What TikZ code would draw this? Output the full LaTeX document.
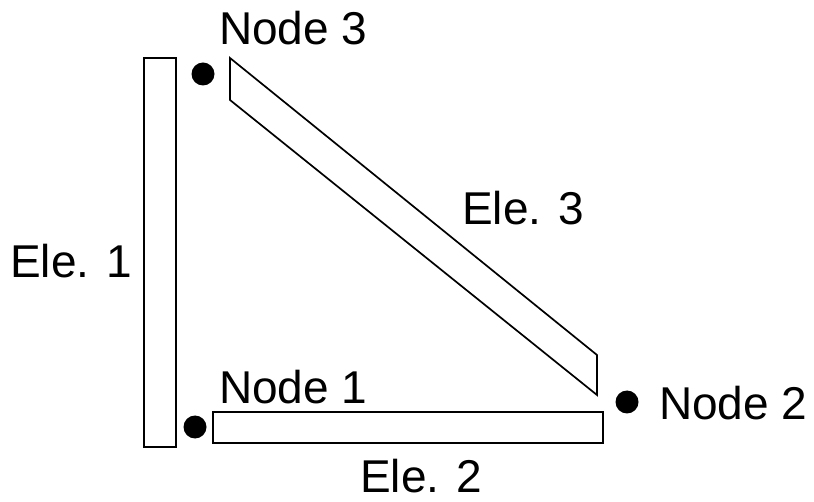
\documentclass[tikz,border=0pt]{standalone}
\usepackage{fontspec}
\setmainfont{Liberation Sans}
\begin{document}
\begin{tikzpicture}[x=1pt,y=-1pt,
  elem/.style={draw=black,line width=1.7pt,fill=white},
  joint/.style={circle,fill=black,inner sep=0pt,minimum size=23pt},
  lbl/.style={font=\fontsize{46}{46}\selectfont,inner sep=0pt,anchor=base west,text depth=0pt}]
\useasboundingbox (0,0) rectangle (814,502);
\fill[white] (0,0) rectangle (814,502);
% element 1 (vertical bar)
\draw[elem] (144,58) rectangle (176,447);
% element 2 (horizontal bar)
\draw[elem] (213,412) rectangle (603,443);
% element 3 (diagonal bar)
\coordinate (e3a) at (230,58);
\coordinate (e3b) at (230,100);
\coordinate (e3c) at (597,395);
\coordinate (e3d) at (597,355);
\draw[elem,line join=miter] (e3a) -- (e3b) -- (e3c) -- (e3d) -- cycle;
% joints
\node[joint] (j3) at (203,74) {};
\node[joint] (j1) at (195,427) {};
\node[joint] (j2) at (627,402) {};
% labels
\node[lbl] (n3) at (219,45) {Node 3};
\node[lbl] (n1) at (219,403) {Node 1};
\node[lbl] (n2) at (659,420) {Node 2};
\node[lbl] (l1) at (10,278) {Ele. 1};
\node[lbl] (l3) at (462,225) {Ele. 3};
\node[lbl] (l2) at (360,492) {Ele. 2};
\end{tikzpicture}
\end{document}
